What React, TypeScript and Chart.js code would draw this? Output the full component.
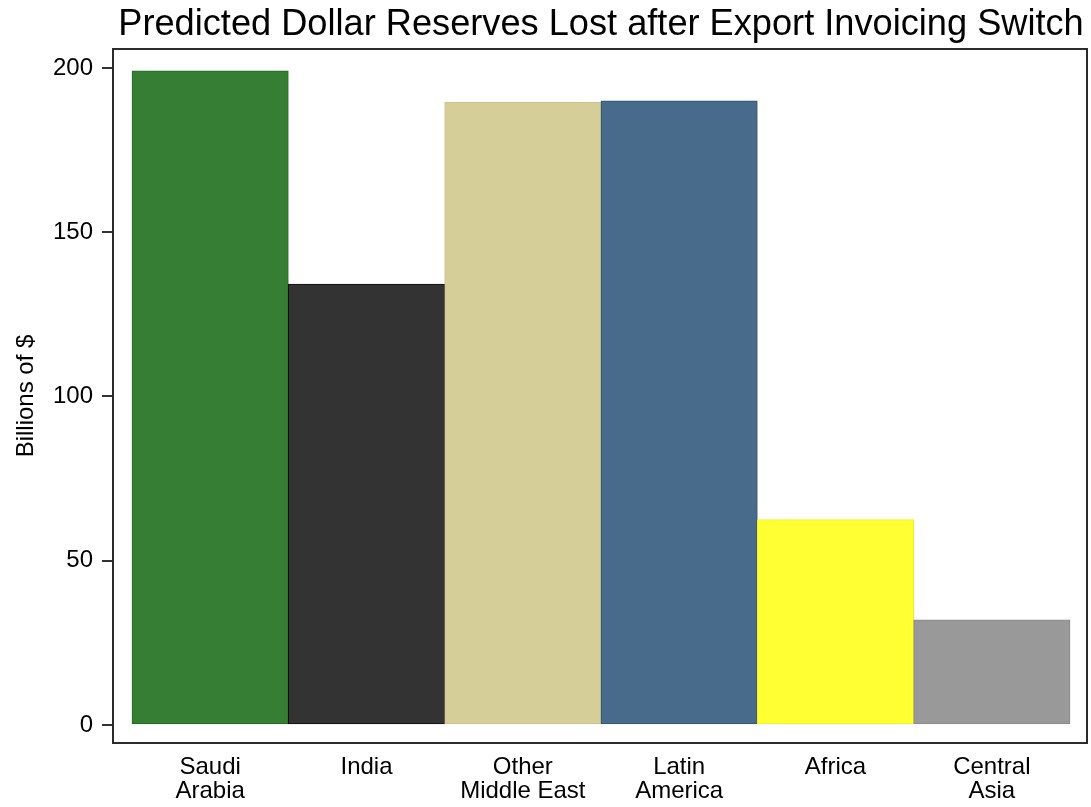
import React, { useEffect, useRef } from "react";
import { Chart, registerables } from "chart.js";

Chart.register(...registerables);

const categories: string[][] = [
  ["Saudi", "Arabia"],
  ["India"],
  ["Other", "Middle East"],
  ["Latin", "America"],
  ["Africa"],
  ["Central", "Asia"],
];
const values: number[] = [199.1, 134.2, 189.6, 190.0, 62.5, 32.0];
const barColors: string[] = ["#367e33", "#333333", "#d5ce98", "#486b8c", "#ffff33", "#999999"];
const barBorders: string[] = ["#1f6a1a", "#111111", "#c9c28a", "#2f5373", "#eeee22", "#888888"];
const yTickValues: number[] = [0, 50, 100, 150, 200];
const titleText = "Predicted Dollar Reserves Lost after Export Invoicing Switch";
const yTitleText = "Billions of $";

const FONT = '"Liberation Sans", Arial, sans-serif';

const framePlugin = {
  id: "frameAndTitles",
  afterDatasetsDraw(chart: any) {
    const { ctx, chartArea } = chart;
    const { left, top, right, bottom } = chartArea;
    ctx.save();
    ctx.strokeStyle = "#2b2b2b";
    ctx.lineWidth = 2;
    ctx.strokeRect(left, top, right - left, bottom - top);
    ctx.restore();
  },
  afterDraw(chart: any) {
    const { ctx, chartArea } = chart;
    const { left, top, right, bottom } = chartArea;
    ctx.save();
    ctx.fillStyle = "#000000";
    ctx.font = `36.2px ${FONT}`;
    ctx.textAlign = "center";
    ctx.textBaseline = "alphabetic";
    ctx.fillText(titleText, (left + right) / 2 + 1, 35);
    ctx.translate(33, (top + bottom) / 2);
    ctx.rotate(-Math.PI / 2);
    ctx.font = `24px ${FONT}`;
    ctx.fillText(yTitleText, 0, 0);
    ctx.restore();
  },
};

export default function App() {
  const canvasRef = useRef<HTMLCanvasElement | null>(null);

  useEffect(() => {
    document.body.style.margin = "0";
    const canvas = canvasRef.current;
    if (!canvas) return;
    const chart = new Chart(canvas, {
      type: "bar",
      data: {
        datasets: [
          {
            data: values.map((v, i) => ({ x: i, y: v })),
            backgroundColor: barColors,
            borderColor: barBorders,
            borderWidth: 1,
            borderSkipped: false,
            barPercentage: 1,
            categoryPercentage: 1,
          },
        ],
      },
      options: {
        animation: false,
        responsive: false,
        maintainAspectRatio: false,
        layout: { padding: { top: 49, right: 4, left: 0, bottom: 0 } },
        plugins: {
          legend: { display: false },
          title: { display: false },
          tooltip: { enabled: false },
        },
        scales: {
          x: {
            type: "linear",
            min: -0.6215,
            max: 5.6087,
            offset: false,
            grid: { display: false },
            border: { display: false },
            afterBuildTicks: (axis: any) => {
              axis.ticks = categories.map((_, i) => ({ value: i }));
            },
            afterFit: (scale: any) => {
              scale.height = 64;
            },
            ticks: {
              autoSkip: false,
              maxRotation: 0,
              minRotation: 0,
              padding: 4,
              color: "#000000",
              font: { family: FONT, size: 24, lineHeight: 1.0 },
              callback: (v: any) => categories[Math.round(Number(v))] ?? "",
            },
          },
          y: {
            type: "linear",
            min: -5.48,
            max: 205.78,
            grid: {
              display: true,
              drawOnChartArea: false,
              drawTicks: true,
              tickLength: 11,
              color: "#333333",
              lineWidth: 2,
            },
            border: { display: false },
            afterBuildTicks: (axis: any) => {
              axis.ticks = yTickValues.map((v) => ({ value: v }));
            },
            afterFit: (scale: any) => {
              scale.width = 113;
            },
            ticks: {
              padding: 9,
              color: "#000000",
              font: { family: FONT, size: 24 },
              callback: (v: any) => String(v),
            },
          },
        },
      },
      plugins: [framePlugin],
    } as any);
    return () => chart.destroy();
  }, []);

  return (
    <div style={{ width: 1091, height: 807 }}>
      <canvas ref={canvasRef} width={1091} height={807} style={{ display: "block" }} />
    </div>
  );
}
